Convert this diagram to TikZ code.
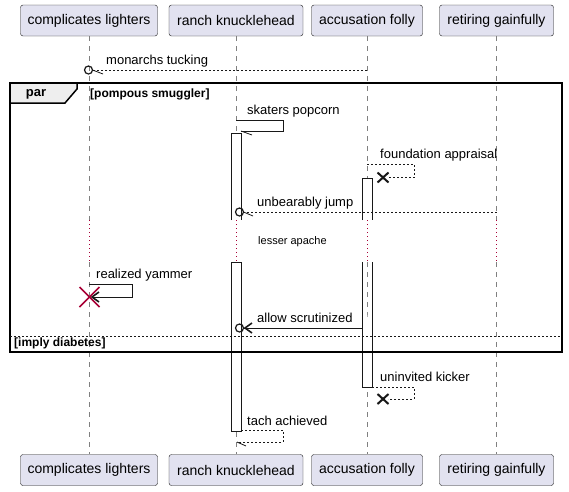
\documentclass[tikz,border=0pt]{standalone}
\usepackage{fontspec}
\setmainfont{Liberation Sans}
\definecolor{partfill}{HTML}{E2E2F0}
\definecolor{partline}{HTML}{181818}
\definecolor{delayred}{HTML}{A80036}
\definecolor{tabfill}{HTML}{EEEEEE}
\definecolor{lifegray}{HTML}{808080}
\tikzset{
  part/.style={draw=partline, fill=partfill, rounded corners=2.5pt, minimum height=31pt, inner sep=0pt, font=\fontsize{14}{16}\selectfont},
  life/.style={draw=lifegray, dash pattern=on 5pt off 5pt, line width=0.6pt},
  delayline/.style={draw=delayred, dash pattern=on 1pt off 3pt, line width=0.7pt},
  actbox/.style={draw=partline, fill=white, line width=0.8pt},
  msg/.style={draw=partline, line width=0.8pt},
  dmsg/.style={draw=partline, line width=0.8pt, dash pattern=on 2pt off 2pt},
  lbl/.style={anchor=west, inner sep=0pt, font=\fontsize{13}{15}\selectfont},
  guard/.style={anchor=west, inner sep=0pt, font=\fontsize{12}{14}\selectfont\bfseries},
  frameline/.style={draw=black, line width=1.5pt},
  halfhead/.style={draw=partline, line width=0.8pt},
  cross/.style={draw=partline, line width=2pt},
  chev/.style={draw=partline, line width=1.6pt},
  ring/.style={draw=partline, line width=1.2pt},
}
\begin{document}
\begin{tikzpicture}[x=1pt,y=-1pt]
\useasboundingbox (0,0) rectangle (569,491);
% participants
\node[part, minimum width=137pt] (At) at (89,20.5) {complicates lighters};
\node[part, minimum width=134pt] (Bt) at (236,20.5) {ranch knucklehead};
\node[part, minimum width=111pt] (Ct) at (367,20.5) {accusation folly};
\node[part, minimum width=114pt] (Dt) at (496.5,20.5) {retiring gainfully};
\node[part, minimum width=137pt] (Ab) at (89,470) {complicates lighters};
\node[part, minimum width=134pt] (Bb) at (236,470) {ranch knucklehead};
\node[part, minimum width=111pt] (Cb) at (367,470) {accusation folly};
\node[part, minimum width=114pt] (Db) at (496.5,470) {retiring gainfully};
% delay coordinates
\foreach \n/\x in {A/89,B/236,C/367,D/496.5}{
  \coordinate (\n1) at (\x,220);
  \coordinate (\n2) at (\x,262);
}
% lifelines
\foreach \n in {A,B,C,D}{
  \draw[life] (\n t.south) -- (\n1);
  \draw[delayline] (\n1) -- (\n2);
  \draw[life] (\n2) -- (\n b.north);
}
% activations
\coordinate (Ba1) at (231,133);
\coordinate (Ba2) at (241,220);
\coordinate (Ba3) at (231,262);
\coordinate (Ba4) at (241,431);
\fill[white] (Ba1) rectangle (Ba2);
\draw[partline, line width=0.8pt] (231,220) -- (Ba1) -- (241,133) -- (Ba2);
\filldraw[actbox] (Ba3 |- 0,431) -- (Ba3) -- (Ba4 |- Ba3) -- (Ba4) -- cycle;
\draw[actbox] (Ba3) rectangle (Ba4);
\coordinate (Ca1) at (362,178);
\coordinate (Ca2) at (372,220);
\coordinate (Ca3) at (362,262);
\coordinate (Ca4) at (372,387);
\fill[white] (Ca1) rectangle (Ca2);
\draw[partline, line width=0.8pt] (362,220) -- (Ca1) -- (372,178) -- (Ca2);
\draw[actbox] (Ca3 |- Ca4) -- (Ca4) -- (Ca4 |- Ca3);
\draw[partline, line width=0.8pt] (Ca3) -- (Ca3 |- Ca4);
\draw[partline, line width=0.8pt] (Ca4 |- Ca3) -- (Ca4);
% delay text
\node[anchor=west, inner sep=0pt, font=\fontsize{11}{13}\selectfont] (delaytxt) at (258,242) {lesser apache};

% message 1: monarchs tucking
\coordinate (m1s) at (367,70);
\coordinate (m1c) at (88.5,70);
\draw[dmsg] (m1s) -- (92.5,70);
\draw[ring] (m1c) circle (4pt);
\draw[halfhead] (92.5,70) -- (103,74);
\node[lbl] (l1) at (106,61) {monarchs tucking};

% frame
\coordinate (fr1) at (10,83);
\coordinate (fr2) at (562,352);
\filldraw[fill=tabfill, draw=black, line width=1.5pt] (fr1) -- (77,83) -- (77,89) -- (65,103) -- (10,103) -- cycle;
\draw[frameline] (fr1) rectangle (fr2);
\node[inner sep=0pt, font=\fontsize{13}{15}\selectfont\bfseries] (partag) at (36,94) {par};
\node[guard] (g1) at (90,94.5) {[pompous smuggler]};
\draw[partline, line width=0.8pt, dash pattern=on 2pt off 2pt] (10,336) -- (562,336);
\node[guard] (g2) at (14,343.5) {[imply diabetes]};

% message 2: skaters popcorn
\draw[msg] (236,120) -- (283,120) -- (283,131) -- (241,131);
\draw[halfhead] (241,131) -- (252,135);
\node[lbl] (l2) at (247,111) {skaters popcorn};

% message 3: foundation appraisal
\draw[dmsg] (367,164) -- (414,164) -- (414,177.5) -- (388,177.5);
\coordinate (x3) at (383,177.5);
\draw[cross] (x3) +(-5.5,-5) -- +(5.5,5);
\draw[cross] (x3) +(-5.5,5) -- +(5.5,-5);
\node[lbl] (l3) at (380,155) {foundation appraisal};

% message 4: unbearably jump
\draw[dmsg] (496.5,212) -- (243.5,212);
\draw[ring] (239.5,212) circle (4pt);
\draw[halfhead] (243.5,212) -- (253,216);
\node[lbl] (l4) at (257,203) {unbearably jump};

% message 5: realized yammer
\draw[msg] (89,284) -- (132,284) -- (132,297) -- (92,297);
\draw[chev] (99,292) -- (92,297) -- (99,302);
\coordinate (x5) at (89.5,297);
\draw[draw=delayred, line width=1.6pt] (x5) +(-10,-10) -- +(10,10);
\draw[draw=delayred, line width=1.6pt] (x5) +(-10,10) -- +(10,-10);
\node[lbl] (l5) at (96,275) {realized yammer};

% message 6: allow scrutinized
\draw[msg] (362,328) -- (244,328);
\draw[chev] (252,323) -- (245,328) -- (252,333);
\draw[ring] (239.5,328) circle (4pt);
\node[lbl] (l6) at (257,318) {allow scrutinized};

% message 7: uninvited kicker
\draw[dmsg] (372,387) -- (414,387) -- (414,399) -- (388,399);
\coordinate (x7) at (383,399);
\draw[cross] (x7) +(-5.5,-5) -- +(5.5,5);
\draw[cross] (x7) +(-5.5,5) -- +(5.5,-5);
\node[lbl] (l7) at (380,377) {uninvited kicker};

% message 8: tach achieved
\draw[dmsg] (241,430) -- (283,430) -- (283,442) -- (237,442);
\draw[halfhead] (237,442) -- (246,446);
\node[lbl] (l8) at (247,421) {tach achieved};
\end{tikzpicture}
\end{document}
